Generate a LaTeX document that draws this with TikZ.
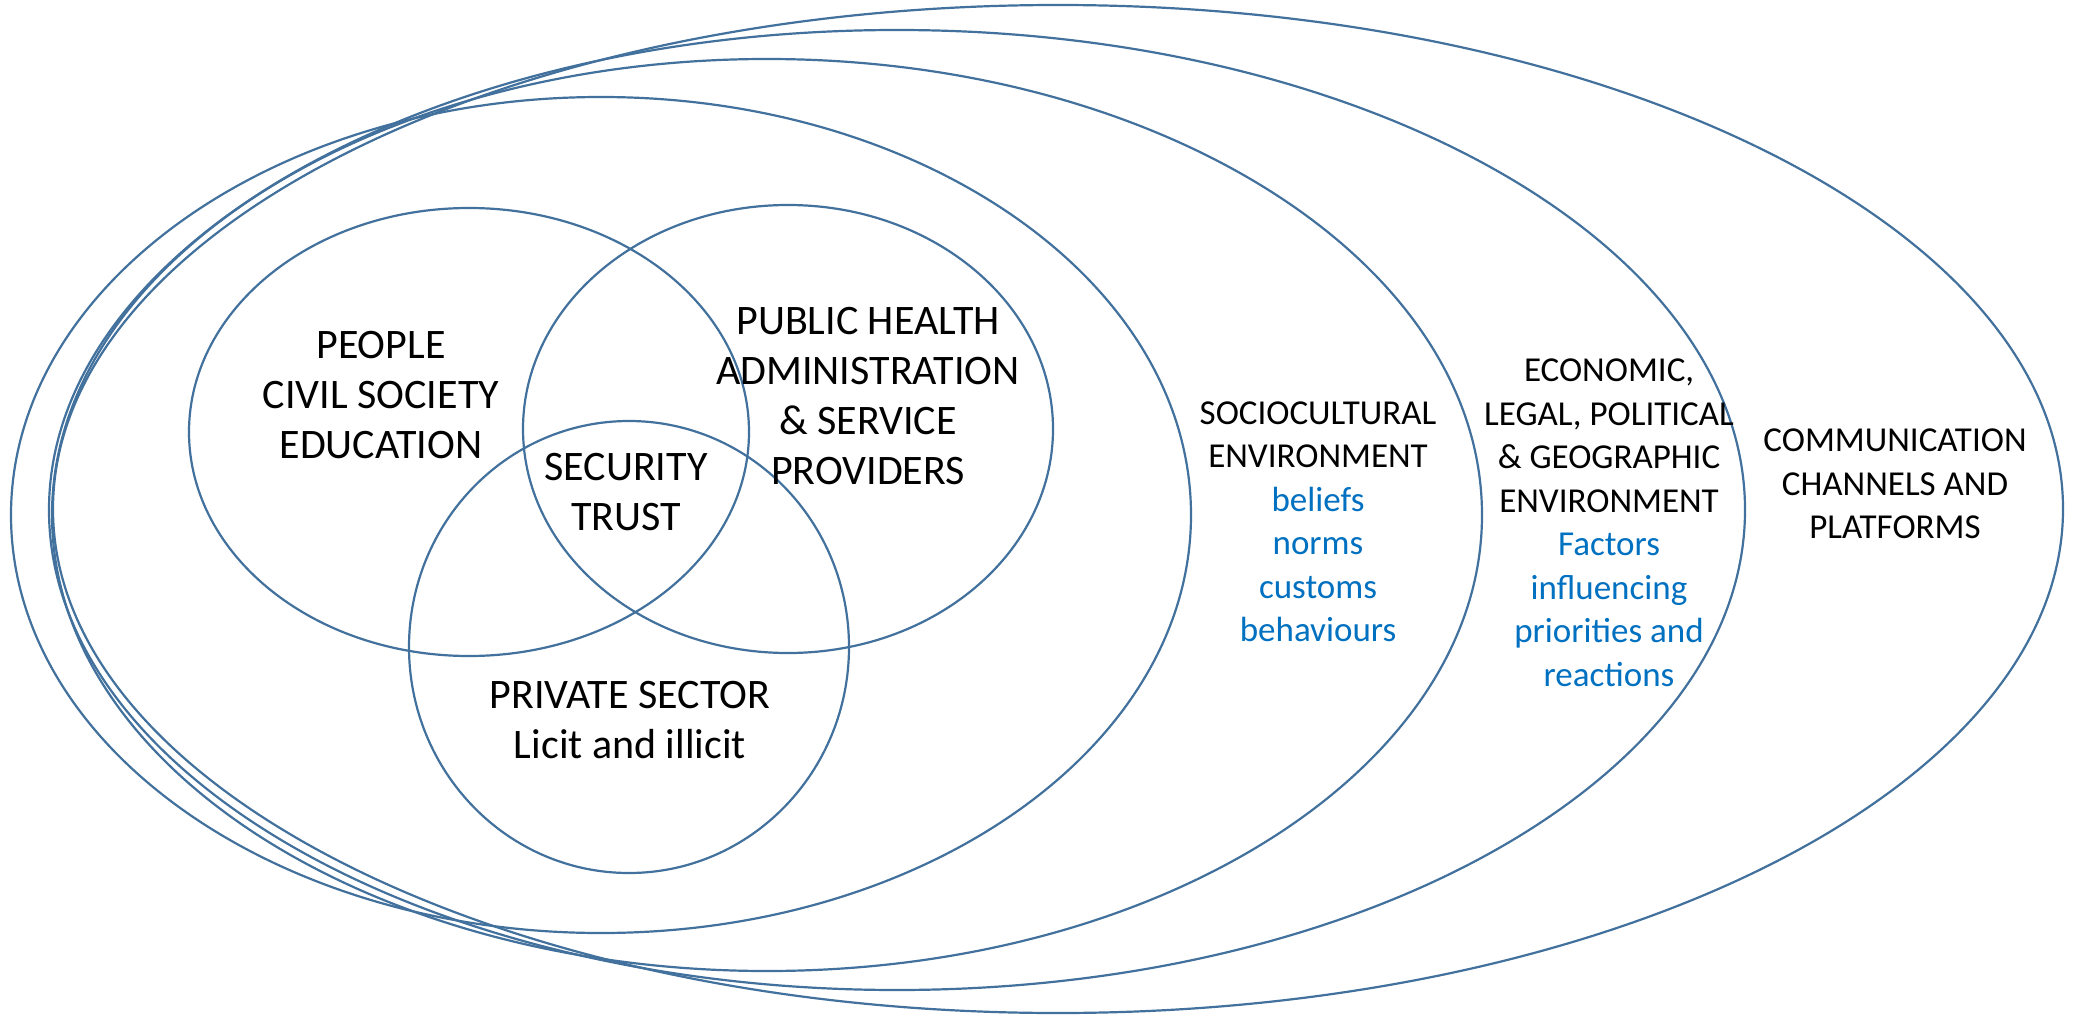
\documentclass[tikz,border=0pt]{standalone}
\usepackage{fontspec}
\setmainfont{Carlito}
\definecolor{edge}{HTML}{41719C}
\definecolor{bluetext}{HTML}{0070C0}
\begin{document}
\begin{tikzpicture}[x=1pt,y=-1pt,
  ring/.style={draw=edge,line width=2.2pt},
  bigtxt/.style={align=center,font=\fontsize{42}{50}\selectfont,inner sep=0pt},
  smalltxt/.style={align=center,font=\fontsize{35}{43.5}\selectfont,inner sep=0pt},
  blue/.style={text=bluetext}]
\useasboundingbox[fill=white] (0,0) rectangle (2076,1016);
% environment ellipses
\draw[ring] (1058,509) ellipse [x radius=1005pt, y radius=504pt];
\draw[ring] (897,510) ellipse [x radius=848pt, y radius=480pt];
\draw[ring] (767,515) ellipse [x radius=715pt, y radius=456pt];
\draw[ring] (601,515) ellipse [x radius=590pt, y radius=418pt];
% venn ellipses
\draw[ring] (469,432) ellipse [x radius=280pt, y radius=224pt];
\draw[ring] (788,429) ellipse [x radius=265pt, y radius=224pt];
\draw[ring] (629,647) ellipse [x radius=220pt, y radius=226pt];
% texts
\node[bigtxt] (people) at (381,395) {PEOPLE\\CIVIL SOCIETY\\EDUCATION};
\node[bigtxt] (public) at (868,396) {PUBLIC HEALTH\\ADMINISTRATION\\\& SERVICE\\PROVIDERS};
\node[bigtxt] (security) at (626,492) {SECURITY\\TRUST};
\node[bigtxt] (private) at (630,720) {PRIVATE SECTOR\\Licit and illicit};
\node[smalltxt] (socio) at (1318,522) {SOCIOCULTURAL\\ENVIRONMENT\\\textcolor{bluetext}{beliefs}\\\textcolor{bluetext}{norms}\\\textcolor{bluetext}{customs}\\\textcolor{bluetext}{behaviours}};
\node[smalltxt] (econ) at (1609,523) {ECONOMIC,\\LEGAL, POLITICAL\\\& GEOGRAPHIC\\ENVIRONMENT\\\textcolor{bluetext}{Factors}\\\textcolor{bluetext}{influencing}\\\textcolor{bluetext}{priorities and}\\\textcolor{bluetext}{reactions}};
\node[smalltxt] (comm) at (1895,484) {COMMUNICATION\\CHANNELS AND\\PLATFORMS};
\end{tikzpicture}
\end{document}
